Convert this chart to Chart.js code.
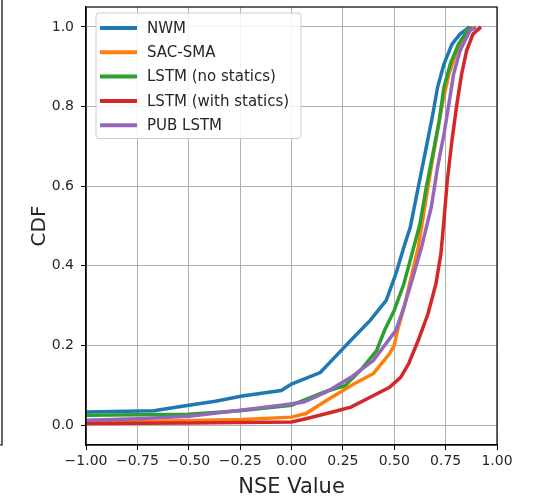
<!DOCTYPE html>
<html>
<head>
<meta charset="utf-8">
<script src="https://cdn.jsdelivr.net/npm/chart.js@4.4.1/dist/chart.umd.min.js"></script>
<style>
  html, body { margin: 0; padding: 0; background: #fff; }
  #wrap { position: relative; width: 537px; height: 500px; }
</style>
</head>
<body>
<div id="wrap"><canvas id="cdf-chart" width="537" height="500"></canvas></div>
<script>
// series labels and colours (matplotlib tab10)
const seriesNames = ['NWM', 'SAC-SMA', 'LSTM (no statics)', 'LSTM (with statics)', 'PUB LSTM'];
const seriesColors = ['#1f77b4', '#ff7f0e', '#2ca02c', '#d62728', '#9467bd'];

// NSE value (x) and CDF (y) for each model
const nwmX = [-1.0, -0.67, -0.5, -0.37, -0.24, -0.05, 0.0, 0.14, 0.195, 0.289, 0.383, 0.461, 0.508, 0.547, 0.578, 0.617, 0.656, 0.688, 0.711, 0.742, 0.781, 0.82, 0.867];
const nwmY = [0.033, 0.036, 0.05, 0.06, 0.073, 0.087, 0.103, 0.132, 0.162, 0.213, 0.263, 0.313, 0.38, 0.447, 0.497, 0.598, 0.698, 0.782, 0.849, 0.907, 0.957, 0.982, 1.0];

const sacX = [-1.0, -0.6, -0.24, 0.0, 0.07, 0.17, 0.305, 0.398, 0.477, 0.50, 0.516, 0.55, 0.586, 0.617, 0.648, 0.68, 0.711, 0.734, 0.766, 0.805, 0.852, 0.883];
const sacY = [0.008, 0.01, 0.014, 0.02, 0.029, 0.062, 0.104, 0.129, 0.179, 0.2, 0.238, 0.30, 0.38, 0.447, 0.547, 0.648, 0.74, 0.807, 0.882, 0.94, 0.99, 1.0];

const lstmX = [-1.0, -0.5, -0.25, 0.0, 0.17, 0.26, 0.34, 0.414, 0.453, 0.5, 0.547, 0.586, 0.625, 0.656, 0.688, 0.719, 0.742, 0.773, 0.813, 0.855, 0.875];
const lstmY = [0.025, 0.027, 0.036, 0.05, 0.085, 0.099, 0.14, 0.187, 0.238, 0.288, 0.355, 0.43, 0.505, 0.598, 0.681, 0.765, 0.849, 0.907, 0.957, 0.99, 1.0];

const staticsX = [-1.0, -0.5, 0.0, 0.07, 0.2, 0.289, 0.383, 0.477, 0.531, 0.57, 0.617, 0.664, 0.703, 0.727, 0.742, 0.758, 0.781, 0.805, 0.828, 0.852, 0.883, 0.922];
const staticsY = [0.004, 0.005, 0.008, 0.016, 0.033, 0.045, 0.07, 0.095, 0.12, 0.154, 0.213, 0.279, 0.355, 0.43, 0.514, 0.614, 0.715, 0.807, 0.882, 0.94, 0.982, 1.0];

const pubX = [-1.0, -0.75, -0.5, -0.25, -0.05, 0.06, 0.17, 0.289, 0.398, 0.508, 0.547, 0.586, 0.633, 0.68, 0.711, 0.742, 0.766, 0.789, 0.82, 0.867, 0.898];
const pubY = [0.012, 0.016, 0.022, 0.037, 0.05, 0.058, 0.083, 0.12, 0.162, 0.238, 0.296, 0.363, 0.447, 0.547, 0.648, 0.731, 0.807, 0.882, 0.94, 0.99, 1.0];

// tick values
const xTicks = [-1.0, -0.75, -0.5, -0.25, 0.0, 0.25, 0.5, 0.75, 1.0];
const yTicks = [0.0, 0.2, 0.4, 0.6, 0.8, 1.0];

const allX = [nwmX, sacX, lstmX, staticsX, pubX];
const allY = [nwmY, sacY, lstmY, staticsY, pubY];

const fontFamily = '"DejaVu Sans", sans-serif';
const textColor = '#262626';

let datasets = seriesNames.map((name, i) => ({
    label: name,
    data: allX[i].map((x, j) => ({x: x, y: allY[i][j]})),
    borderColor: seriesColors[i],
    backgroundColor: seriesColors[i],
    borderWidth: 3.5,
    pointRadius: 0,
    showLine: true,
    tension: 0,
    // later series drawn on top, like matplotlib
    order: seriesNames.length - i
}));

// box around the plot, the edge of the neighbouring panel, and the legend inside the axes
const framePlugin = {
    id: 'frame',
    afterDatasetsDraw(chart) {
        const ctx = chart.ctx;
        const a = chart.chartArea;
        ctx.save();
        ctx.strokeStyle = '#000';
        ctx.lineWidth = 1.2;
        ctx.strokeRect(a.left, a.top, a.right - a.left, a.bottom - a.top);

        // right edge of the panel next to this one
        ctx.beginPath();
        ctx.moveTo(2, 0);
        ctx.lineTo(2, a.bottom);
        ctx.lineTo(0, a.bottom);
        ctx.stroke();

        // legend
        const lx = a.left + 10, ly = a.top + 6;
        const rowH = 24.3;
        const w = 205, h = rowH * seriesNames.length + 4;
        ctx.fillStyle = 'rgba(255,255,255,0.85)';
        ctx.strokeStyle = '#cccccc';
        ctx.lineWidth = 1;
        ctx.beginPath();
        ctx.roundRect(lx, ly, w, h, 3);
        ctx.fill();
        ctx.stroke();
        ctx.font = '15px ' + fontFamily;
        ctx.textBaseline = 'middle';
        seriesNames.forEach((name, i) => {
            const cy = ly + 15 + i * rowH;
            ctx.strokeStyle = seriesColors[i];
            ctx.lineWidth = 4;
            ctx.beginPath();
            ctx.moveTo(lx + 4, cy);
            ctx.lineTo(lx + 41, cy);
            ctx.stroke();
            ctx.fillStyle = textColor;
            ctx.fillText(name, lx + 51, cy + 1);
        });
        ctx.restore();
    }
};

let options = {
    responsive: false,
    animation: false,
    layout: {
        padding: {top: 7, right: 40, left: 0, bottom: 0}
    },
    plugins: {
        legend: {display: false},
        tooltip: {enabled: false}
    },
    scales: {
        x: {
            type: 'linear',
            min: -1.0,
            max: 1.0,
            afterBuildTicks: axis => { axis.ticks = xTicks.map(v => ({value: v})); },
            afterFit: axis => { axis.height = 55; },
            grid: {color: '#b0b0b0', lineWidth: 1, tickColor: '#000', tickLength: 5},
            border: {color: '#000', width: 1.2},
            ticks: {
                color: textColor,
                font: {family: fontFamily, size: 14},
                padding: 3,
                maxRotation: 0,
                callback: v => v.toFixed(2).replace('-', '\u2212')
            },
            title: {
                display: true,
                text: 'NSE Value',
                color: textColor,
                font: {family: fontFamily, size: 21},
                padding: {top: 0, bottom: 0}
            }
        },
        y: {
            type: 'linear',
            min: -0.05,
            max: 1.05,
            afterBuildTicks: axis => { axis.ticks = yTicks.map(v => ({value: v})); },
            afterFit: axis => {
                axis.width = 86;
                // the top tick sits well inside the axes, no room needed for its label
                axis.paddingTop = 0;
                axis.paddingBottom = 0;
            },
            grid: {color: '#b0b0b0', lineWidth: 1, tickColor: '#000', tickLength: 5},
            border: {color: '#000', width: 1.2},
            ticks: {
                color: textColor,
                font: {family: fontFamily, size: 14},
                padding: 7,
                callback: v => v.toFixed(1)
            },
            title: {
                display: true,
                text: 'CDF',
                color: textColor,
                font: {family: fontFamily, size: 20},
                padding: {top: 28, bottom: 0}
            }
        }
    }
};

let config = {
    type: 'scatter',
    data: {datasets: datasets},
    options: options,
    plugins: [framePlugin]
};

window.cdfChart = new Chart(document.getElementById('cdf-chart').getContext('2d'), config);
</script>
</body>
</html>
